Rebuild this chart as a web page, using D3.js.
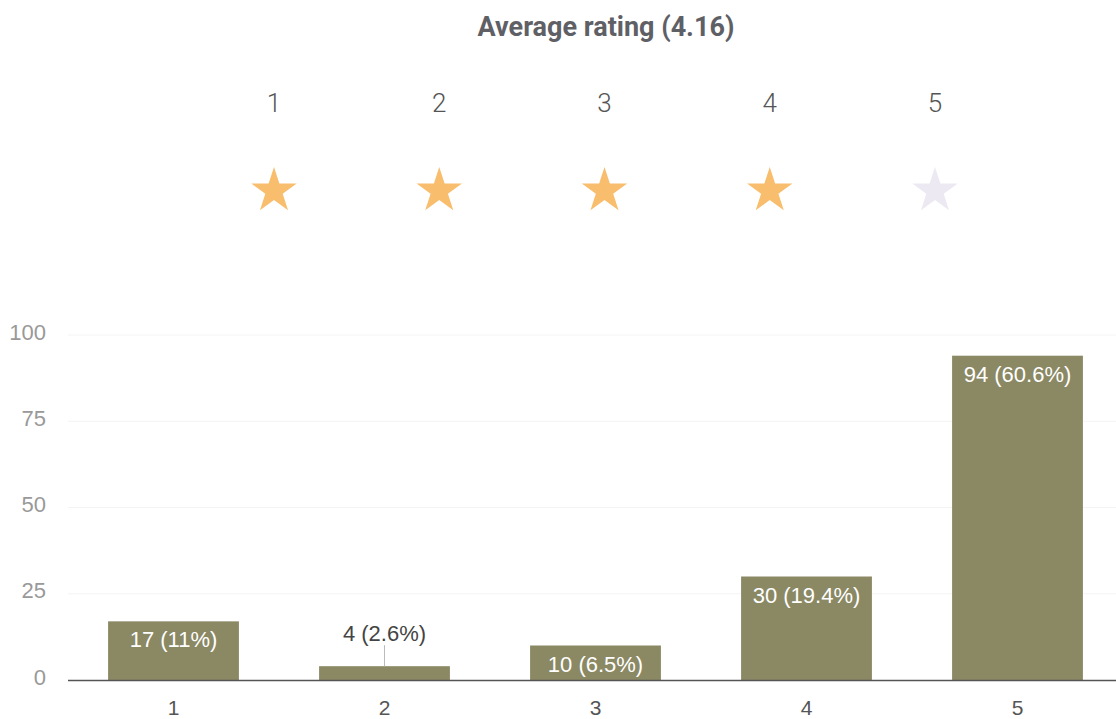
<!DOCTYPE html>
<html><head><meta charset="utf-8">
<script src="https://cdn.jsdelivr.net/npm/d3@7"></script>
<style>html,body{margin:0;padding:0;background:#fff;}svg{display:block;font-family:Roboto,"Noto Sans",sans-serif;}</style>
</head><body>
<svg id="c" width="1116" height="719"></svg>
<script>
const title = "Average rating (4.16)";
const ratings = ["1","2","3","4","5"];
const counts = [17, 4, 10, 30, 94];
const labels = ["17 (11%)", "4 (2.6%)", "10 (6.5%)", "30 (19.4%)", "94 (60.6%)"];
const yTicks = [0, 25, 50, 75, 100];
const starFilled = [true, true, true, true, false];

const svg = d3.select("#c");
const labelFont = "'Liberation Sans',Arial,sans-serif";

svg.append("text").attr("x", 606).attr("y", 36).attr("text-anchor", "middle")
  .attr("font-size", 27).attr("font-weight", 700).attr("fill", "#5f6066").text(title);

// star row
const sx = d3.scalePoint().domain(ratings).range([274, 935]);
svg.selectAll(".sn").data(ratings).enter().append("text")
  .attr("x", d => sx(d)).attr("y", 112).attr("text-anchor", "middle")
  .attr("font-size", 26).attr("font-weight", 300).attr("fill", "#555").text(d => d);
const star = d3.symbol().type(d3.symbolStar).size(640);
svg.selectAll(".st").data(ratings).enter().append("path")
  .attr("d", star).attr("transform", d => `translate(${sx(d)},191)`)
  .attr("fill", (d, i) => starFilled[i] ? "#f8bd6d" : "#ece9f3");

// bar chart
const x = d3.scaleBand().domain(ratings).range([68, 1123]).paddingInner(0.38).paddingOuter(0.19);
const y = d3.scaleLinear().domain([0, 100]).range([680, 335]);

const grid = svg.append("g");
grid.selectAll("line").data(yTicks.filter(t => t > 0)).enter().append("line")
  .attr("x1", 68).attr("x2", 1116).attr("y1", d => y(d)).attr("y2", d => y(d))
  .attr("stroke", "#f4f4f4").attr("stroke-width", 1);

const yAxis = svg.append("g").attr("transform", "translate(46,-3)")
  .call(d3.axisLeft(y).tickValues(yTicks).tickSize(0).tickPadding(0));
yAxis.select(".domain").remove();
yAxis.selectAll("text").attr("font-size", 22).attr("fill", "#999").attr("font-family", labelFont);

svg.selectAll(".bar").data(ratings).enter().append("rect")
  .attr("x", d => x(d)).attr("width", x.bandwidth())
  .attr("y", (d, i) => y(counts[i])).attr("height", (d, i) => y(0) - y(counts[i]))
  .attr("fill", "#8b8864");

const xAxis = svg.append("g").attr("transform", "translate(0,680)")
  .call(d3.axisBottom(x).tickSize(0).tickPadding(20));
xAxis.select(".domain").attr("d", "M68,0.5H1116").attr("stroke", "#555").attr("stroke-width", 1.5);
xAxis.selectAll("text").attr("font-size", 21).attr("fill", "#555").attr("font-family", labelFont);

// labels
ratings.forEach((d, i) => {
  const cx = x(d) + x.bandwidth() / 2;
  const h = y(0) - y(counts[i]);
  if (h > 30) {
    svg.append("text").attr("x", cx).attr("y", y(counts[i]) + 26).attr("text-anchor", "middle")
      .attr("font-size", 22).attr("fill", "#fff").attr("font-family", labelFont).text(labels[i]);
  } else {
    svg.append("line").attr("x1", cx).attr("x2", cx).attr("y1", y(counts[i])).attr("y2", y(counts[i]) - 21)
      .attr("stroke", "#bbb").attr("stroke-width", 1);
    svg.append("text").attr("x", cx).attr("y", y(counts[i]) - 25).attr("text-anchor", "middle")
      .attr("font-size", 22).attr("fill", "#444").attr("font-family", labelFont).text(labels[i]);
  }
});
</script>
</body></html>
